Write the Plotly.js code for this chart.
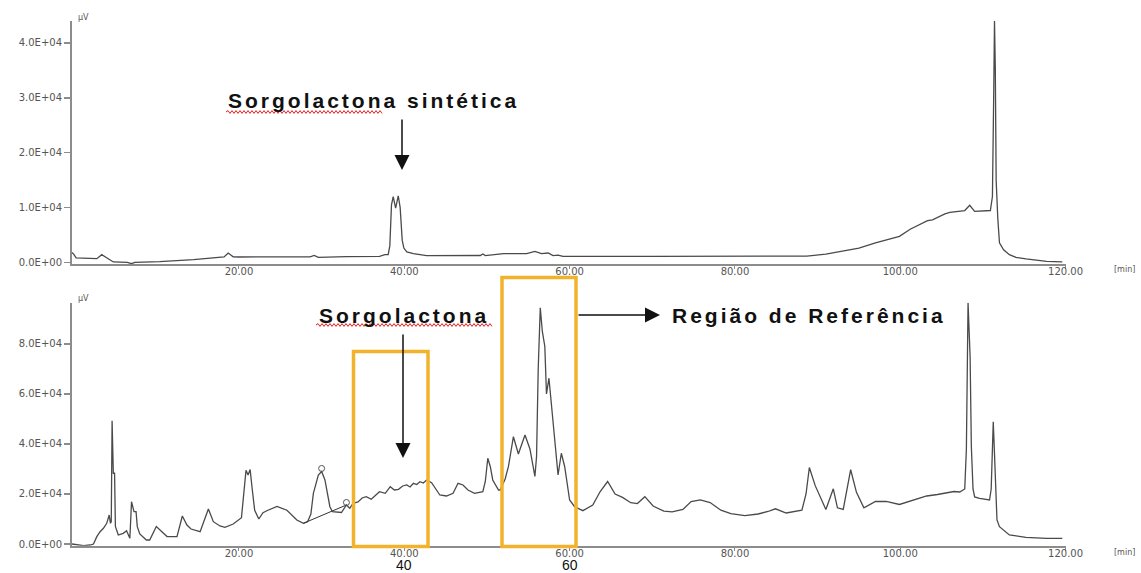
<!DOCTYPE html>
<html>
<head>
<meta charset="utf-8">
<script src="https://cdn.plot.ly/plotly-3.0.1.min.js"></script>
<style>html,body{margin:0;padding:0;background:#fff;}#chart{width:1141px;height:573px;}</style>
</head>
<body>
<div id="chart"></div>
<script>
// ---------- DATA ----------
// Top chromatogram: synthetic sorgolactone standard (time in min, signal in µV)
const topTime = [-0.2, 0.0, 0.3, 1.5, 2.8, 3.4, 4.0, 4.8, 6.5, 7.0, 7.4, 10.4, 14.5, 17.3, 18.2, 18.7, 19.3, 20.0, 25.0, 28.6, 29.1, 29.6, 33.0, 37.0, 37.65, 38.05, 38.25, 38.45, 38.66, 38.95, 39.27, 39.5, 39.75, 39.95, 40.3, 41.1, 42.7, 47.0, 49.2, 49.5, 49.8, 52.0, 54.8, 55.8, 56.6, 57.4, 58.0, 58.6, 59.2, 70.0, 80.0, 88.7, 91.0, 92.9, 95.0, 97.0, 99.9, 101.2, 103.3, 103.9, 105.4, 106.0, 107.8, 108.4, 109.0, 110.9, 111.15, 111.3, 111.4, 111.5, 111.6, 111.8, 112.0, 112.5, 113.2, 114.0, 115.2, 117.7, 119.6];
const topSignal = [1800, 1500, 800, 700, 670, 1400, 800, 70, 0, -240, 0, 130, 490, 800, 1000, 1700, 1000, 980, 980, 1000, 1270, 910, 1050, 1090, 1400, 1400, 3000, 10500, 12000, 9900, 12100, 10000, 4000, 2600, 1900, 1580, 1220, 1220, 1250, 1520, 1220, 1580, 1580, 2000, 1580, 1700, 1220, 1330, 1090, 1100, 1100, 1150, 1500, 1960, 2600, 3530, 4730, 6040, 7620, 7760, 8850, 9100, 9450, 10400, 9300, 9450, 12000, 30000, 44000, 35000, 15000, 8000, 3580, 2300, 1400, 900, 620, 180, 70];

// Bottom chromatogram: sorghum root exudate sample
const botTime = [-0.2, 0.5, 1.2, 2.0, 2.4, 2.8, 3.2, 3.6, 4.0, 4.3, 4.45, 4.55, 4.65, 4.8, 4.95, 5.05, 5.4, 6.0, 6.4, 6.8, 7.0, 7.3, 7.55, 7.7, 8.0, 8.8, 9.2, 10.0, 10.6, 11.3, 12.5, 13.15, 13.7, 14.2, 15.3, 16.3, 16.9, 17.7, 18.3, 19.3, 20.3, 20.6, 20.85, 21.1, 21.35, 21.6, 21.9, 22.4, 22.9, 23.5, 24.6, 25.8, 27.0, 27.8, 28.3, 28.7, 29.0, 29.6, 30.0, 30.4, 31.0, 31.3, 31.8, 32.4, 33.0, 33.4, 33.8, 34.4, 34.9, 35.4, 36.0, 36.5, 37.0, 37.7, 38.3, 38.8, 39.3, 39.8, 40.3, 40.7, 41.1, 41.5, 41.9, 42.3, 42.7, 43.3, 43.8, 44.3, 45.1, 45.9, 46.5, 47.1, 47.7, 48.5, 49.5, 49.8, 50.1, 50.4, 50.7, 51.4, 51.6, 52.2, 52.6, 53.2, 53.8, 54.2, 54.6, 55.2, 55.8, 56.0, 56.2, 56.45, 56.7, 57.0, 57.2, 57.5, 57.9, 58.3, 58.6, 59.0, 59.4, 60.0, 60.6, 61.6, 62.8, 63.7, 64.6, 65.5, 66.4, 67.4, 68.2, 69.1, 70.1, 71.4, 72.4, 73.7, 74.7, 75.8, 77.0, 78.3, 79.5, 81.2, 82.8, 84.0, 84.9, 86.2, 88.1, 88.6, 89.0, 89.7, 91.0, 91.9, 92.4, 93.1, 93.6, 94.0, 94.7, 95.6, 97.0, 98.3, 99.9, 101.0, 102.2, 103.2, 104.5, 105.6, 106.5, 107.2, 107.8, 108.0, 108.2, 108.45, 108.6, 108.8, 109.0, 109.6, 110.8, 111.0, 111.15, 111.25, 111.4, 111.55, 111.7, 112.0, 113.2, 115.2, 117.7, 119.6];
const botSignal = [0, -400, -680, -400, 0, 2930, 4930, 6270, 8270, 11600, 8270, 9000, 49300, 28300, 28300, 7000, 3600, 4270, 5330, 2270, 16930, 12930, 12930, 6930, 4000, 1600, 1600, 7000, 5000, 3000, 2930, 11200, 7600, 6000, 4930, 14000, 8930, 7200, 6670, 8000, 10500, 20000, 29500, 27600, 29800, 22000, 13500, 10000, 12500, 13500, 15000, 13500, 9600, 8270, 8900, 12000, 20270, 27600, 29000, 25600, 14930, 12930, 12900, 12600, 15600, 14270, 16270, 16800, 18400, 18930, 17870, 19500, 20930, 20270, 22930, 21600, 21870, 23200, 23600, 22800, 24270, 23800, 24930, 24400, 25600, 24530, 22000, 19600, 19200, 20270, 24270, 23600, 21600, 20270, 20930, 25000, 34300, 31000, 25600, 21600, 21600, 26000, 31000, 42900, 36000, 40000, 43600, 38000, 27000, 35000, 70000, 94500, 85000, 79000, 60000, 66300, 51000, 37600, 27600, 36300, 31000, 17600, 14930, 13330, 15600, 21000, 25000, 20000, 18640, 16500, 16160, 18920, 15200, 13120, 12840, 13800, 17000, 17640, 16560, 13520, 12160, 11320, 12000, 13000, 14080, 12400, 13520, 20000, 30600, 23440, 13800, 22080, 14480, 13800, 22000, 29700, 20680, 14480, 17000, 17000, 15800, 17000, 18000, 19200, 19800, 20500, 21000, 20800, 22000, 38000, 96500, 75000, 39000, 22000, 18800, 18270, 17600, 22000, 35000, 48900, 36000, 20000, 9600, 6930, 3600, 2670, 2270, 2270];

// Integration baseline drawn by the software and peak-top marks
const baseTime = [27.8, 33.0];
const baseSignal = [8300, 15600];
const peakMarkTime = [30.0, 33.0];
const peakMarkSignal = [30200, 16600];

// Tick labels
const xTickVals = [20, 40, 60, 80, 100, 120];
const xTickText = ['20.00', '40.00', '60.00', '80.00', '100.00', '120.00'];
const topYTickVals = [0, 10000, 20000, 30000, 40000];
const topYTickText = ['0.0E+00', '1.0E+04', '2.0E+04', '3.0E+04', '4.0E+04'];
const botYTickVals = [0, 20000, 40000, 60000, 80000];
const botYTickText = ['0.0E+00', '2.0E+04', '4.0E+04', '6.0E+04', '8.0E+04'];

// ---------- LAYOUT HELPERS ----------
const W = 1141, H = 573;
const PX = x => x / W;
const PY = y => 1 - y / H;

const lineCol = '#4a4a4a';
const axisCol = '#8c8c8c';
const tickFont = {family: 'DejaVu Sans, Arial, sans-serif', size: 10, color: '#555'};

const traces = [
  {x: topTime, y: topSignal, xaxis: 'x', yaxis: 'y', type: 'scatter', mode: 'lines',
   line: {color: lineCol, width: 1.3}, hoverinfo: 'skip'},
  {x: botTime, y: botSignal, xaxis: 'x2', yaxis: 'y2', type: 'scatter', mode: 'lines',
   line: {color: lineCol, width: 1.3}, hoverinfo: 'skip'},
  {x: baseTime, y: baseSignal, xaxis: 'x2', yaxis: 'y2', type: 'scatter', mode: 'lines',
   line: {color: '#333', width: 1}, hoverinfo: 'skip'},
  {x: peakMarkTime, y: peakMarkSignal, xaxis: 'x2', yaxis: 'y2', type: 'scatter', mode: 'markers',
   marker: {symbol: 'circle-open', size: 6, color: '#555', line: {width: 1}}, hoverinfo: 'skip'}
];

function xAx(anchor) {
  return {domain: [PX(72), PX(1066)], range: [-0.2, 120.05], anchor: anchor,
    showline: true, linecolor: axisCol, linewidth: 2, showgrid: false, zeroline: false,
    ticks: 'outside', ticklen: 3, tickcolor: axisCol, tickwidth: 1,
    ticklabelstandoff: -6,
    tickmode: 'array', tickvals: xTickVals, ticktext: xTickText, tickfont: tickFont,
    automargin: false, fixedrange: true};
}
function yAx(anchor, dom, rng, vals, text) {
  return {domain: dom, range: rng, anchor: anchor,
    showline: true, linecolor: axisCol, linewidth: 2, showgrid: false, zeroline: false,
    ticks: 'outside', ticklen: 6, tickcolor: axisCol, tickwidth: 1.5,
    tickmode: 'array', tickvals: vals, ticktext: text, tickfont: tickFont,
    automargin: false, fixedrange: true};
}

// squiggly spell-check underline (decoration)
function squiggle(x0, x1, y) {
  let d = 'M' + PX(x0) + ',' + PY(y);
  let up = true;
  for (let x = x0 + 2; x <= x1; x += 2) {
    d += ' L' + PX(x) + ',' + PY(y + (up ? -1.4 : 1.4));
    up = !up;
  }
  return {type: 'path', xref: 'paper', yref: 'paper', path: d, line: {color: '#e02020', width: 1}};
}

const orange = '#F2B22C';
const shapes = [
  {type: 'rect', xref: 'paper', yref: 'paper', x0: PX(353.5), x1: PX(428), y0: PY(546.5), y1: PY(351.5),
   line: {color: orange, width: 3.5}},
  {type: 'rect', xref: 'paper', yref: 'paper', x0: PX(502), x1: PX(576), y0: PY(546.5), y1: PY(277.5),
   line: {color: orange, width: 3.5}},
  squiggle(226, 383, 112),
  squiggle(316, 492, 325)
];

const bold = (t) => '<b><span style="letter-spacing:3px">' + t + '</span></b>';
const labelFont = {family: 'Liberation Sans, Arial, sans-serif', size: 21, color: '#111'};
const smallFont = {family: 'DejaVu Sans, Arial, sans-serif', size: 8, color: '#555'};

const annotations = [
  {xref: 'paper', yref: 'paper', x: PX(373), y: PY(100), text: bold('Sorgolactona sintética'),
   showarrow: false, font: labelFont, xanchor: 'center', yanchor: 'middle'},
  {xref: 'paper', yref: 'paper', x: PX(404), y: PY(315), text: bold('Sorgolactona'),
   showarrow: false, font: labelFont, xanchor: 'center', yanchor: 'middle'},
  {xref: 'paper', yref: 'paper', x: PX(809), y: PY(315), text: bold('Região de Referência'),
   showarrow: false, font: labelFont, xanchor: 'center', yanchor: 'middle'},
  // arrows
  {xref: 'paper', yref: 'paper', x: PX(402), y: PY(170), ax: 0, ay: -52, text: '', showarrow: true,
   arrowhead: 2, arrowsize: 2, arrowwidth: 1.5, arrowcolor: '#111', standoff: 0},
  {xref: 'paper', yref: 'paper', x: PX(403), y: PY(458), ax: 0, ay: -125, text: '', showarrow: true,
   arrowhead: 2, arrowsize: 2, arrowwidth: 1.5, arrowcolor: '#111', standoff: 0},
  {xref: 'paper', yref: 'paper', x: PX(660), y: PY(315), ax: -83, ay: 0, text: '', showarrow: true,
   arrowhead: 2, arrowsize: 2, arrowwidth: 1.5, arrowcolor: '#111', standoff: 0},
  // unit labels
  {xref: 'paper', yref: 'paper', x: PX(76), y: PY(17), text: 'µV', showarrow: false, font: smallFont,
   xanchor: 'left', yanchor: 'middle'},
  {xref: 'paper', yref: 'paper', x: PX(76), y: PY(298), text: 'µV', showarrow: false, font: smallFont,
   xanchor: 'left', yanchor: 'middle'},
  {xref: 'paper', yref: 'paper', x: PX(1124), y: PY(270), text: '[min]', showarrow: false, font: smallFont,
   xanchor: 'center', yanchor: 'middle'},
  {xref: 'paper', yref: 'paper', x: PX(1124), y: PY(552), text: '[min]', showarrow: false, font: smallFont,
   xanchor: 'center', yanchor: 'middle'},
  // big region labels under bottom axis
  {xref: 'paper', yref: 'paper', x: PX(404), y: PY(565), text: '40', showarrow: false,
   font: {family: 'Liberation Sans, Arial, sans-serif', size: 14, color: '#111'}, xanchor: 'center', yanchor: 'middle'},
  {xref: 'paper', yref: 'paper', x: PX(570), y: PY(565), text: '60', showarrow: false,
   font: {family: 'Liberation Sans, Arial, sans-serif', size: 14, color: '#111'}, xanchor: 'center', yanchor: 'middle'}
];

const layout = {
  width: W, height: H,
  margin: {l: 0, r: 0, t: 0, b: 0},
  paper_bgcolor: '#fff', plot_bgcolor: '#fff',
  showlegend: false,
  xaxis: xAx('y'),
  yaxis: yAx('x', [PY(264), PY(21)], [-300, 44000], topYTickVals, topYTickText),
  xaxis2: xAx('y2'),
  yaxis2: yAx('x2', [PY(545.7), PY(302.7)], [-680, 96500], botYTickVals, botYTickText),
  shapes: shapes,
  annotations: annotations
};

Plotly.newPlot('chart', traces, layout, {staticPlot: true, displayModeBar: false});
</script>
</body>
</html>
